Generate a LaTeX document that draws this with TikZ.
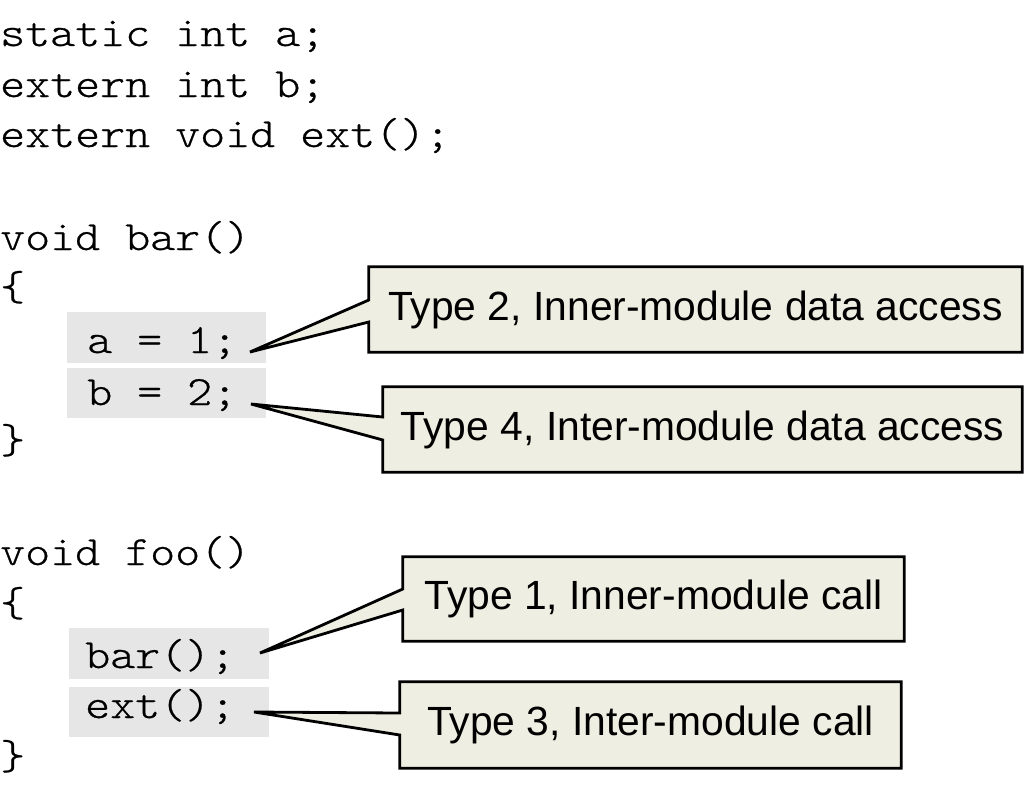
\documentclass[tikz,border=0pt]{standalone}
\usepackage{fontspec}
\newfontfamily\codefont{lmmonolt10-regular.otf}[FakeStretch=1.142,FakeBold=0.6]
\newfontfamily\labfont{Liberation Sans}
\pgfdeclarelayer{bglayer}
\pgfdeclarelayer{midlayer}
\pgfsetlayers{bglayer,midlayer,main}
\definecolor{hlgray}{RGB}{230,230,230}
\definecolor{calloutfill}{RGB}{238,238,226}
\tikzset{
  code/.style={anchor=base west, inner sep=0pt, font=\codefont\fontsize{41.7}{50}\selectfont},
  hlbox/.style={anchor=north west, inner sep=0pt, minimum width=199pt},
  calloutbox/.style={inner sep=0pt, font=\labfont\fontsize{40.8}{50}\selectfont},
  calloutline/.style={draw=black, fill=calloutfill, line width=2.8pt, line join=miter},
}
\begin{document}
\begin{tikzpicture}[x=1pt,y=-1pt]
\useasboundingbox (0,0) rectangle (1024,788);
% highlight boxes
\node[hlbox, minimum height=51pt] (g1) at (67,312) {};
\node[hlbox, minimum height=50pt] (g2) at (67,368) {};
\node[hlbox, minimum height=51pt, minimum width=200pt] (g3) at (69,628) {};
\node[hlbox, minimum height=50pt, minimum width=200pt] (g4) at (69,687) {};
\begin{pgfonlayer}{bglayer}
  \fill[white] (0,0) rectangle (1024,788);
  \foreach \g in {g1,g2,g3,g4}
    \fill[hlgray] (\g.north west) rectangle (\g.south east);
\end{pgfonlayer}
% code lines
\node[code] (l1) at (0,46) {static int a;};
\node[code] (l2) at (0,97) {extern int b;};
\node[code] (l3) at (0,147) {extern void ext();};
\node[code] (l4) at (0,250) {void bar()};
\node[code] (l5) at (0,300) {\{};
\node[code] (l6) at (87,353) {a = 1;};
\node[code] (l7) at (87,405) {b = 2;};
\node[code] (l8) at (0,453) {\}};
\node[code] (l9) at (0,565) {void foo()};
\node[code] (l10) at (0,616) {\{};
\node[code] (l11) at (85,668) {bar();};
\node[code] (l12) at (85,718) {ext();};
\node[code] (l13) at (0,769) {\}};
% callout texts
\node[calloutbox, minimum width=653pt, minimum height=85pt] (c2) at (695.5,309.5) {Type 2, Inner-module data access};
\node[calloutbox, minimum width=639pt, minimum height=85pt] (c4) at (702.5,429.5) {Type 4, Inter-module data access};
\node[calloutbox, minimum width=501pt, minimum height=84pt] (c1) at (653.5,599) {Type 1, Inner-module call};
\node[calloutbox, minimum width=501pt, minimum height=86pt] (c3) at (650.5,725) {Type 3, Inter-module call};
% pointer tips
\coordinate (t2) at (250,352);
\coordinate (t4) at (251,404);
\coordinate (t1) at (260,653);
\coordinate (t3) at (254,712);
\begin{pgfonlayer}{midlayer}
  \draw[calloutline] (t2) -- (c2.west |- 0,300) -- (c2.north west) -- (c2.north east) -- (c2.south east) -- (c2.south west) -- (c2.west |- 0,322) -- cycle;
  \draw[calloutline] (t4) -- (c4.west |- 0,417) -- (c4.north west) -- (c4.north east) -- (c4.south east) -- (c4.south west) -- (c4.west |- 0,440) -- cycle;
  \draw[calloutline] (t1) -- (c1.west |- 0,589) -- (c1.north west) -- (c1.north east) -- (c1.south east) -- (c1.south west) -- (c1.west |- 0,610) -- cycle;
  \draw[calloutline] (t3) -- (c3.west |- 0,713) -- (c3.north west) -- (c3.north east) -- (c3.south east) -- (c3.south west) -- (c3.west |- 0,735) -- cycle;
\end{pgfonlayer}
\end{tikzpicture}
\end{document}
